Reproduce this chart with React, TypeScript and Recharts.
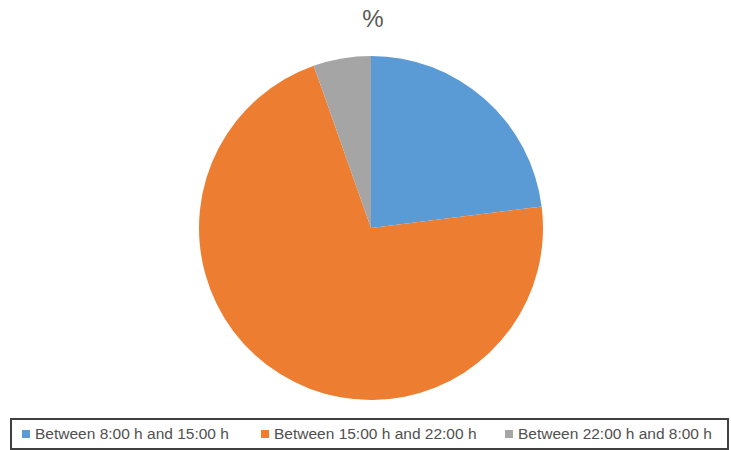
import { PieChart, Pie, Cell, Legend } from 'recharts';

const categories = ['Between 8:00 h and 15:00 h', 'Between 15:00 h and 22:00 h', 'Between 22:00 h and 8:00 h'];
const values = [23, 71.6, 5.4];
const colors = ['#5b9bd5', '#ed7d31', '#a5a5a5'];

const data = categories.map((name, i) => ({ name, value: values[i] }));

// left edge of each legend item, in page pixels
const legendLefts = [22, 261, 505];

function LegendBox() {
  return (
    <div
      style={{
        position: 'absolute',
        left: 10,
        top: 418,
        width: 715,
        height: 28,
        border: '2px solid #404040',
        fontFamily: '"Liberation Sans", Arial, sans-serif',
        fontSize: 15.5,
        color: '#505050',
      }}
    >
      {categories.map((c, i) => (
        <div
          key={c}
          style={{
            position: 'absolute',
            left: legendLefts[i] - 12,
            top: 0,
            height: 28,
            display: 'flex',
            alignItems: 'center',
            whiteSpace: 'nowrap',
          }}
        >
          <span style={{ width: 8, height: 8, background: colors[i], display: 'inline-block', marginRight: 5 }} />
          <span>{c}</span>
        </div>
      ))}
    </div>
  );
}

export default function App() {
  return (
    <div style={{ position: 'absolute', left: 0, top: 0, width: 731, height: 450, background: '#fff' }}>
      <PieChart width={731} height={450} margin={{ top: 0, right: 0, bottom: 0, left: 0 }}>
        <text
          x={373}
          y={27}
          textAnchor="middle"
          fontSize={24}
          fill="#595959"
          fontFamily='"Liberation Sans", Arial, sans-serif'
        >
          %
        </text>
        <Pie
          data={data}
          dataKey="value"
          nameKey="name"
          cx={371}
          cy={228}
          outerRadius={172}
          startAngle={90}
          endAngle={-270}
          stroke="none"
          isAnimationActive={false}
        >
          {data.map((d, i) => (
            <Cell key={d.name} fill={colors[i]} />
          ))}
        </Pie>
        <Legend content={() => null} />
      </PieChart>
      <LegendBox />
    </div>
  );
}
